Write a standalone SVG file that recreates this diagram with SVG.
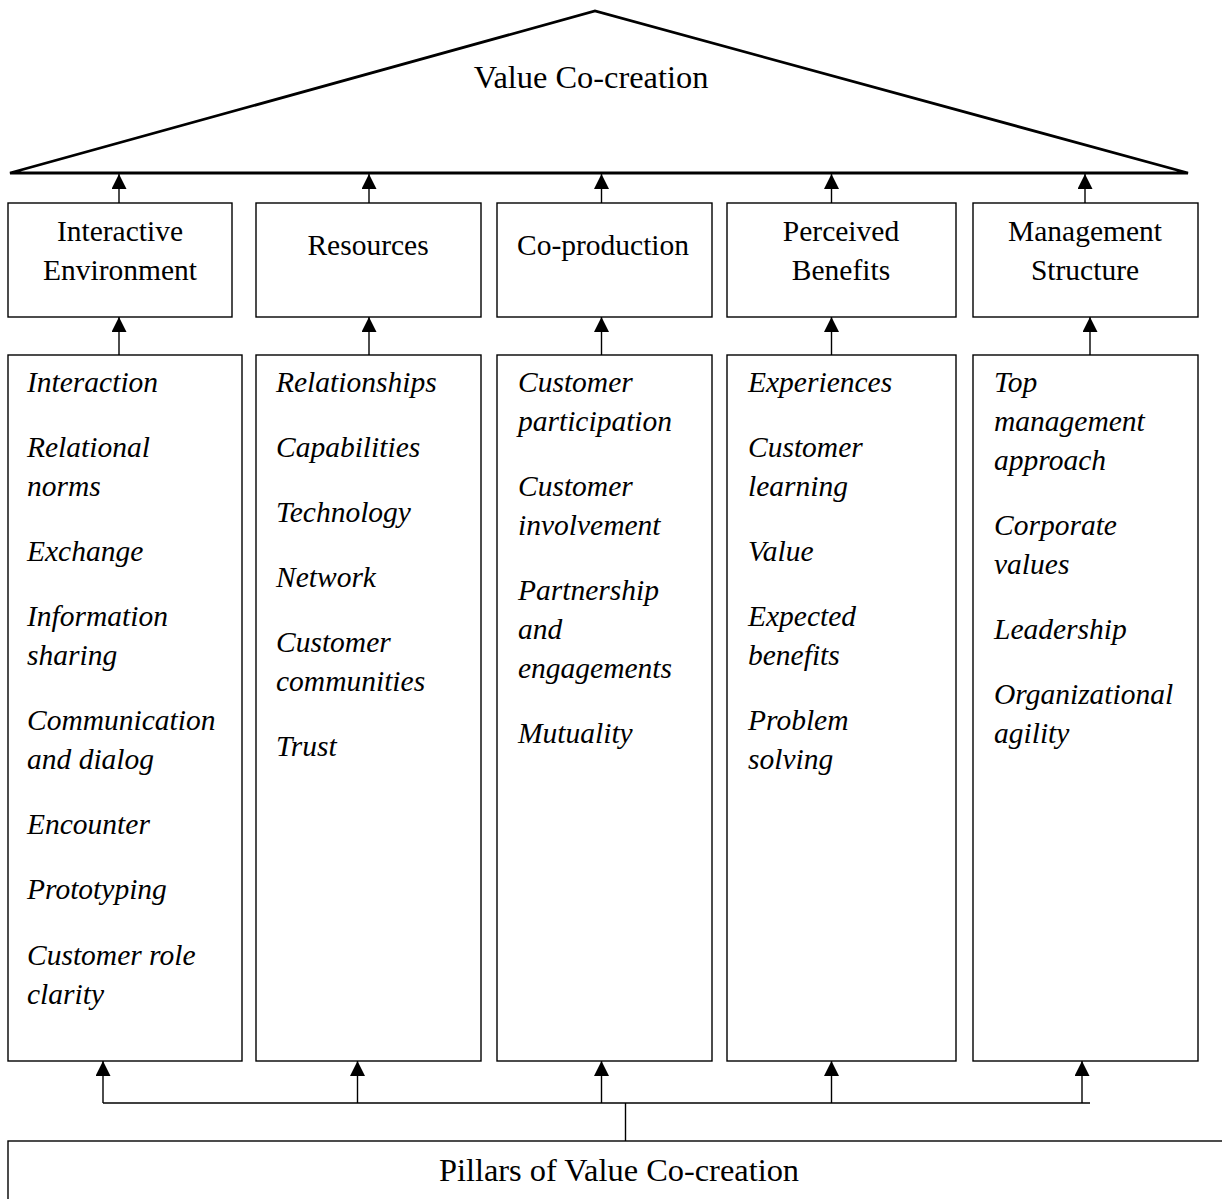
<svg xmlns="http://www.w3.org/2000/svg" width="1222" height="1199" viewBox="0 0 1222 1199">
  <style>
    .box { fill: #fff; stroke: #000; stroke-width: 1.4; }
    .roof { fill: none; stroke: #000; stroke-width: 2.8; stroke-linejoin: miter; }
    .wire { fill: none; stroke: #000; stroke-width: 1.4; }
    .head { fill: #000; }
    text { font-family: "Liberation Serif", "Times New Roman", serif; font-size: 29.5px; fill: #000; }
    .c { text-anchor: middle; }
    .big { font-size: 32.4px; }
    .it { font-style: italic; }
  </style>
  <defs>
    <marker id="arrow" markerWidth="16" markerHeight="16" refX="15" refY="7.5" orient="auto" markerUnits="userSpaceOnUse">
      <path class="head" d="M0,0 L15,7.5 L0,15 Z"/>
    </marker>
  </defs>
  <rect width="1222" height="1199" fill="#fff"/>

  <!-- roof -->
  <g id="roof">
    <polygon class="roof" points="10,173 595,11 1188,173"/>
    <text class="c big" x="591" y="88">Value Co-creation</text>
  </g>

  <!-- pillar headers -->
  <g id="hdr-interactive">
    <rect class="box" x="8" y="203" width="224" height="114"/>
    <text class="c" x="120" y="241">Interactive</text>
    <text class="c" x="120" y="280">Environment</text>
  </g>
  <g id="hdr-resources">
    <rect class="box" x="256" y="203" width="225" height="114"/>
    <text class="c" x="368" y="255">Resources</text>
  </g>
  <g id="hdr-coproduction">
    <rect class="box" x="497" y="203" width="215" height="114"/>
    <text class="c" x="603" y="255">Co-production</text>
  </g>
  <g id="hdr-benefits">
    <rect class="box" x="727" y="203" width="229" height="114"/>
    <text class="c" x="841" y="241">Perceived</text>
    <text class="c" x="841" y="280">Benefits</text>
  </g>
  <g id="hdr-management">
    <rect class="box" x="973" y="203" width="225" height="114"/>
    <text class="c" x="1085" y="241">Management</text>
    <text class="c" x="1085" y="280">Structure</text>
  </g>

  <!-- pillar contents -->
  <g id="col-interactive">
    <rect class="box" x="8" y="355" width="234" height="706"/>
    <g class="it">
      <text x="27" y="392">Interaction</text>
      <text x="27" y="457">Relational</text>
      <text x="27" y="496">norms</text>
      <text x="27" y="561">Exchange</text>
      <text x="27" y="626">Information</text>
      <text x="27" y="665">sharing</text>
      <text x="27" y="730">Communication</text>
      <text x="27" y="769">and dialog</text>
      <text x="27" y="834">Encounter</text>
      <text x="27" y="899">Prototyping</text>
      <text x="27" y="965">Customer role</text>
      <text x="27" y="1004">clarity</text>
    </g>
  </g>
  <g id="col-resources">
    <rect class="box" x="256" y="355" width="225" height="706"/>
    <g class="it">
      <text x="276" y="392">Relationships</text>
      <text x="276" y="457">Capabilities</text>
      <text x="276" y="522">Technology</text>
      <text x="276" y="587">Network</text>
      <text x="276" y="652">Customer</text>
      <text x="276" y="691">communities</text>
      <text x="276" y="756">Trust</text>
    </g>
  </g>
  <g id="col-coproduction">
    <rect class="box" x="497" y="355" width="215" height="706"/>
    <g class="it">
      <text x="518" y="392">Customer</text>
      <text x="518" y="431">participation</text>
      <text x="518" y="496">Customer</text>
      <text x="518" y="535">involvement</text>
      <text x="518" y="600">Partnership</text>
      <text x="518" y="639">and</text>
      <text x="518" y="678">engagements</text>
      <text x="518" y="743">Mutuality</text>
    </g>
  </g>
  <g id="col-benefits">
    <rect class="box" x="727" y="355" width="229" height="706"/>
    <g class="it">
      <text x="748" y="392">Experiences</text>
      <text x="748" y="457">Customer</text>
      <text x="748" y="496">learning</text>
      <text x="748" y="561">Value</text>
      <text x="748" y="626">Expected</text>
      <text x="748" y="665">benefits</text>
      <text x="748" y="730">Problem</text>
      <text x="748" y="769">solving</text>
    </g>
  </g>
  <g id="col-management">
    <rect class="box" x="973" y="355" width="225" height="706"/>
    <g class="it">
      <text x="994" y="392">Top</text>
      <text x="994" y="431">management</text>
      <text x="994" y="470">approach</text>
      <text x="994" y="535">Corporate</text>
      <text x="994" y="574">values</text>
      <text x="994" y="639">Leadership</text>
      <text x="994" y="704">Organizational</text>
      <text x="994" y="743">agility</text>
    </g>
  </g>

  <!-- foundation -->
  <g id="foundation">
    <rect class="box" x="8" y="1141" width="1240" height="100"/>
    <text class="c big" x="619" y="1181">Pillars of Value Co-creation</text>
  </g>

  <!-- connectors -->
  <g id="connectors">
    <!-- header to roof -->
    <line class="wire" x1="119" y1="203" x2="119" y2="174" marker-end="url(#arrow)"/>
    <line class="wire" x1="369" y1="203" x2="369" y2="174" marker-end="url(#arrow)"/>
    <line class="wire" x1="601.5" y1="203" x2="601.5" y2="174" marker-end="url(#arrow)"/>
    <line class="wire" x1="831.5" y1="203" x2="831.5" y2="174" marker-end="url(#arrow)"/>
    <line class="wire" x1="1085" y1="203" x2="1085" y2="174" marker-end="url(#arrow)"/>
    <!-- content to header -->
    <line class="wire" x1="119" y1="355" x2="119" y2="317" marker-end="url(#arrow)"/>
    <line class="wire" x1="369" y1="355" x2="369" y2="317" marker-end="url(#arrow)"/>
    <line class="wire" x1="601.5" y1="355" x2="601.5" y2="317" marker-end="url(#arrow)"/>
    <line class="wire" x1="831.5" y1="355" x2="831.5" y2="317" marker-end="url(#arrow)"/>
    <line class="wire" x1="1090" y1="355" x2="1090" y2="317" marker-end="url(#arrow)"/>
    <!-- foundation bus -->
    <line class="wire" x1="625.5" y1="1141" x2="625.5" y2="1103"/>
    <line class="wire" x1="103" y1="1103" x2="1090" y2="1103"/>
    <line class="wire" x1="103" y1="1103" x2="103" y2="1061" marker-end="url(#arrow)"/>
    <line class="wire" x1="357.5" y1="1103" x2="357.5" y2="1061" marker-end="url(#arrow)"/>
    <line class="wire" x1="601.5" y1="1103" x2="601.5" y2="1061" marker-end="url(#arrow)"/>
    <line class="wire" x1="831.5" y1="1103" x2="831.5" y2="1061" marker-end="url(#arrow)"/>
    <line class="wire" x1="1082" y1="1103" x2="1082" y2="1061" marker-end="url(#arrow)"/>
  </g>
</svg>
